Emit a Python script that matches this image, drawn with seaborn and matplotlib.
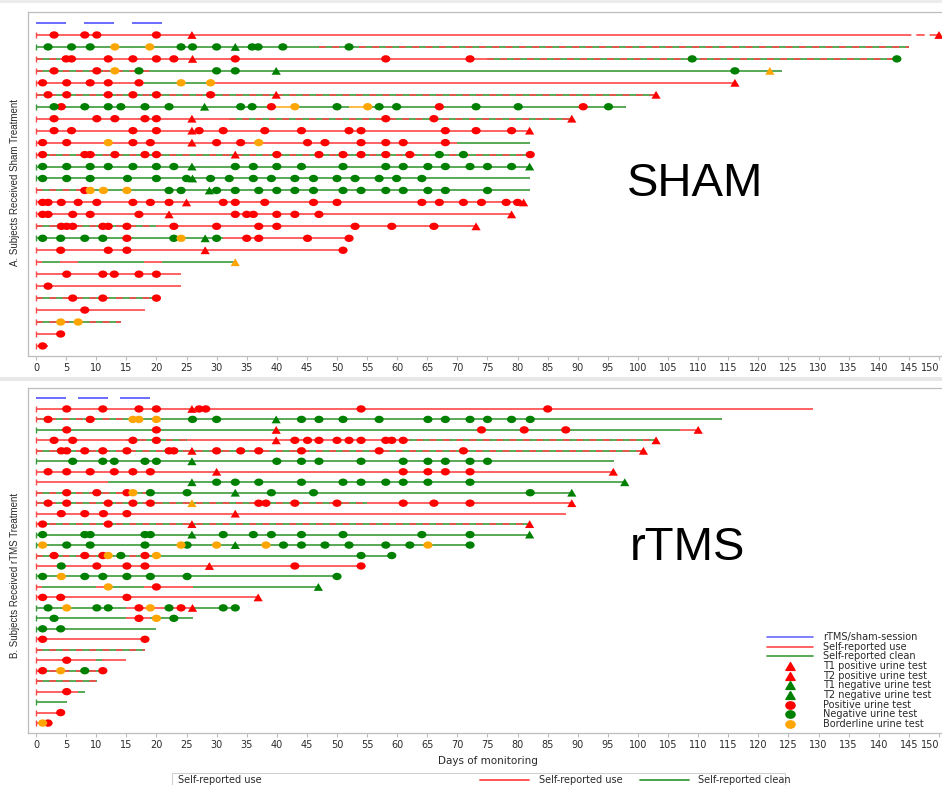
import numpy as np
import pandas as pd
import matplotlib
matplotlib.use("Agg")
import matplotlib.pyplot as plt
from matplotlib.path import Path
from matplotlib.lines import Line2D
from matplotlib.patches import Rectangle
import seaborn as sns

# ── data ──────────────────────────────────────────────────────────────────────
# each row: list of (end_day, status); status U=use, C=clean, M=mixed,
# D=use (dashed, missing), B=borderline
sham_sessions = [(0, 5), (8, 13), (16, 21)]
rtms_sessions = [(0, 5), (7, 12), (14, 19)]

sham_phases = [
    [(144, "U"), (150, "D")],
    [(47, "C"), (145, "M")],
    [(4, "M"), (75, "U"), (143, "M")],
    [(20, "M"), (124, "C")],
    [(18, "U"), (29, "C"), (116, "U")],
    [(103, "M")],
    [(39, "C"), (43, "B"), (52, "C"), (55, "B"), (98, "C")],
    [(32, "U"), (89, "M")],
    [(82, "U")],
    [(70, "U"), (82, "C")],
    [(82, "M")],
    [(82, "C")],
    [(82, "C")],
    [(9, "M"), (82, "C")],
    [(81, "U")],
    [(79, "U")],
    [(20, "M"), (73, "U")],
    [(31, "C"), (52.5, "U")],
    [(51.5, "U")],
    [(1, "U"), (4, "C"), (7, "U"), (18, "C"), (21, "U"), (33, "C")],
    [(24.1, "U")],
    [(24.1, "U")],
    [(20, "M")],
    [(18.1, "U")],
    [(14.1, "M")],
    [(4.3, "U")],
    [(2.0, "U")],
]

rtms_phases = [
    [(129, "U")],
    [(16, "M"), (114, "C")],
    [(107, "C"), (110, "U")],
    [(15, "U"), (25, "M"), (61, "U"), (103, "M")],
    [(101, "M")],
    [(96, "C")],
    [(96, "U")],
    [(12, "U"), (98, "C")],
    [(20, "M"), (89, "C")],
    [(55, "M"), (89, "U")],
    [(88, "U")],
    [(82, "M")],
    [(82, "C")],
    [(72, "C")],
    [(20, "M"), (59, "C")],
    [(54, "U")],
    [(50, "C")],
    [(1, "U"), (10, "C"), (12, "U"), (18, "C"), (26, "U"), (47, "C")],
    [(37, "U")],
    [(15, "C"), (26, "U"), (33, "C")],
    [(15, "C"), (19, "U"), (26, "C")],
    [(20, "C")],
    [(18.1, "U")],
    [(18.1, "M")],
    [(10, "U"), (11, "C"), (15, "U")],
    [(11.1, "M")],
    [(10.1, "M")],
    [(7, "U"), (8.1, "C")],
    [(5.1, "C")],
    [(4.1, "U")],
    [(2.0, "U")],
]

# urine tests, keyed by row index (0 = top row)
sham_pos = {
    0: [3.0, 8.1, 10.1, 20.0],
    2: [5.0, 5.9, 12.0, 16.1, 20.0, 22.9, 33.1, 58.1, 72.1],
    3: [3.0, 10.1],
    4: [1.1, 5.1, 9.0, 12.0, 17.1],
    5: [2.0, 5.1, 12.0, 16.1, 20.0, 29.0],
    6: [4.2, 39.1, 67.0, 90.9],
    7: [3.0, 10.1, 13.1, 18.1, 20.0, 58.1, 66.1],
    8: [3.0, 5.9, 16.1, 20.0, 27.1, 31.1, 38.0, 44.1, 52.0, 54.0, 68.0, 73.1, 79.0],
    9: [1.1, 5.1, 16.1, 19.0, 30.0, 34.0, 45.1, 48.0, 54.0, 58.1, 61.0, 68.0],
    10: [1.1, 8.1, 9.0, 13.1, 18.1, 20.0, 40.0, 47.0, 51.0, 54.0, 58.1, 62.1, 82.1],
    13: [8.1],
    14: [1.1, 2.0, 4.2, 7.0, 10.1, 16.1, 19.0, 22.1, 31.1, 33.1, 38.0, 46.1, 50.0,
         64.1, 67.0, 71.0, 74.0, 78.1, 80.0],
    15: [1.1, 2.0, 6.1, 9.0, 17.1, 33.1, 35.0, 36.1, 40.0, 43.0, 47.0],
    16: [4.2, 5.1, 6.1, 11.1, 12.0, 15.1, 22.9, 30.0, 37.0, 40.0, 53.0, 59.1, 66.1],
    17: [15.1, 35.0, 37.0, 45.1, 52.0],
    18: [4.1, 12.0, 15.1, 51.0],
    20: [5.1, 11.1, 13.0, 17.1, 20.0],
    21: [2.0],
    22: [6.1, 11.1, 20.0],
    23: [8.1],
    25: [4.1],
    26: [1.1],
}
sham_neg = {
    1: [2.0, 5.9, 9.0, 24.1, 26.0, 30.0, 35.9, 36.9, 41.0, 52.0],
    2: [109.0, 143.0],
    3: [17.1, 30.0, 33.1, 116.1],
    6: [3.0, 8.1, 12.0, 14.1, 18.1, 22.1, 34.0, 35.9, 50.0, 57.0, 59.9, 73.1, 80.1, 95.1],
    10: [67.0, 71.0],
    11: [1.1, 5.1, 9.0, 12.0, 16.1, 20.0, 22.9, 33.1, 36.1, 40.0, 44.1, 51.0, 58.1,
         61.0, 65.1, 68.0, 72.1, 75.0, 79.0],
    12: [1.1, 5.1, 9.0, 15.2, 20.0, 25.0, 29.0, 32.1, 36.1, 39.1, 43.0, 46.1, 50.0,
         53.0, 57.0, 59.9, 64.1],
    13: [22.1, 24.1, 30.0, 33.1, 37.0, 40.0, 43.0, 46.1, 51.0, 54.0, 58.1, 61.0,
         65.1, 68.0, 75.0],
    17: [1.1, 4.1, 8.1, 11.1, 22.9, 30.0],
}
sham_border = {
    1: [13.1, 18.9], 3: [13.1], 4: [24.1, 29.0], 6: [43.0, 55.1],
    9: [12.0, 37.0], 13: [9.0, 11.2, 15.1], 17: [24.1], 24: [4.1, 7.0],
}
sham_tri_pos = {
    0: [25.9, 150.0], 2: [26.0], 4: [116.1], 5: [39.9, 103.0], 7: [25.9, 89.0],
    8: [25.9, 82.0], 9: [25.9], 10: [33.1], 14: [25.0, 81.0], 15: [22.1, 79.0],
    16: [73.1], 18: [28.1],
}
sham_tri_neg = {
    1: [33.1], 3: [39.9], 6: [28.0], 11: [25.9, 82.0], 12: [26.0], 13: [28.8],
    17: [28.1],
}
sham_tri_border = {3: [121.9], 19: [33.1]}

rtms_pos = {
    0: [5.1, 11.1, 17.1, 20.0, 27.1, 28.2, 54.0, 85.0],
    1: [2.0, 9.0],
    2: [5.1, 20.0, 74.0, 81.1, 88.0],
    3: [3.0, 6.1, 16.1, 20.0, 43.0, 45.1, 47.0, 50.0, 52.0, 54.0, 58.1, 59.1, 61.0],
    4: [4.2, 5.1, 8.1, 11.1, 15.1, 22.1, 22.9, 30.0, 34.0, 37.0, 44.1, 57.0, 71.0],
    6: [2.0, 5.1, 9.0, 13.0, 16.1, 19.0, 61.0, 65.1, 68.0, 72.1],
    8: [5.1, 10.1, 15.1],
    9: [2.0, 5.1, 12.0, 16.1, 19.0, 37.0, 38.2, 43.0, 50.0, 61.0, 66.1, 72.1],
    10: [4.2, 8.1, 11.2, 15.1],
    11: [1.1, 12.0],
    14: [3.0, 8.1, 11.1, 18.1],
    15: [10.1, 15.1, 18.1, 43.0, 54.0],
    17: [20.0],
    18: [1.1, 4.1, 15.1],
    19: [17.1, 24.1],
    20: [17.1],
    22: [1.1, 18.1],
    24: [5.1],
    25: [1.1, 11.1],
    27: [5.1],
    29: [4.1],
    30: [2.0],
}
rtms_neg = {
    1: [26.0, 30.0, 44.1, 47.0, 51.0, 57.0, 65.1, 68.0, 72.1, 75.0, 79.0, 82.1],
    5: [6.1, 11.1, 13.0, 18.1, 20.0, 40.0, 44.1, 47.0, 54.0, 61.0, 65.1, 68.0, 72.1, 75.0],
    7: [30.0, 33.1, 37.0, 44.1, 51.0, 54.0, 58.1, 61.0, 65.1, 72.1],
    8: [19.0, 25.1, 39.1, 46.1, 82.1],
    12: [1.1, 8.1, 9.0, 18.1, 19.0, 31.1, 36.1, 39.1, 44.1, 51.0, 64.1, 72.1],
    13: [5.1, 9.0, 18.1, 25.1, 41.1, 44.1, 48.0, 52.0, 58.1, 62.1, 72.1],
    14: [14.1, 54.0, 59.1],
    15: [4.2],
    16: [1.1, 8.1, 11.1, 15.1, 19.0, 25.1, 50.0],
    19: [2.0, 10.1, 12.0, 22.1, 31.1, 33.1],
    20: [3.0, 22.9],
    21: [1.1, 4.1],
    25: [8.1],
}
rtms_border = {
    1: [16.1, 17.1, 20.0], 8: [16.1], 13: [1.1, 24.1, 30.0, 38.2, 65.1],
    14: [12.0, 20.0], 16: [4.2], 17: [12.0], 19: [5.1, 19.0], 20: [20.0],
    25: [4.1], 30: [1.1],
}
rtms_tri_pos = {
    0: [25.9], 2: [39.9, 110.0], 3: [39.9, 103.0], 4: [25.9, 100.9],
    6: [30.0, 95.9], 9: [89.0], 10: [33.1], 11: [25.9, 82.0], 15: [28.8],
    18: [36.9], 19: [26.0],
}
rtms_tri_neg = {
    1: [39.9], 5: [25.9], 7: [25.9, 97.8], 8: [33.1, 89.0], 12: [25.9, 82.0],
    13: [33.1], 17: [46.9],
}
rtms_tri_border = {9: [25.9]}

x_ticks = list(range(0, 151, 5))

# ── style ─────────────────────────────────────────────────────────────────────
W, H = 942, 785
RED_LINE, GREEN_LINE, ORANGE_LINE = "#ff4747", "#3b9b3b", "#ffb020"
BLUE_LINE = "#6a6aff"
PALETTE = {"pos": "#ff0000", "neg": "#008000", "border": "#ffa500"}
SPINE = "#bdbdbd"
TEXT = "#2a2a2a"

_circ = Path.unit_circle()
ELLIPSE = Path(_circ.vertices * np.array([1.0, 0.8]), _circ.codes)
TRIANGLE = Path([(0, 0.85), (-1, -0.85), (1, -0.85), (0, 0.85)],
                [Path.MOVETO, Path.LINETO, Path.LINETO, Path.CLOSEPOLY])

sns.set_theme(style="white")
plt.rcParams["font.family"] = ["DejaVu Sans"]


def marker_frame(groups):
    recs = []
    for (result, shape), by_row in groups:
        for row, days in by_row.items():
            for d in days:
                recs.append({"row": row, "day": d, "result": result, "shape": shape})
    return pd.DataFrame(recs)


def draw_panel(ax, phases, sessions, groups, ylim):
    # session bars on the row above the subjects
    for s, e in sessions:
        ax.hlines(-1, s, e, color=BLUE_LINE, lw=1.4)

    first_col = {"U": RED_LINE, "D": RED_LINE, "C": GREEN_LINE,
                 "M": RED_LINE, "B": ORANGE_LINE}
    for i, row in enumerate(phases):
        start = 0
        for end, code in row:
            if code == "U":
                ax.hlines(i, start, end, color=RED_LINE, lw=1.2)
            elif code == "C":
                ax.hlines(i, start, end, color=GREEN_LINE, lw=1.2)
            elif code == "B":
                ax.hlines(i, start, end, color=ORANGE_LINE, lw=1.2)
            elif code == "D":
                ax.hlines(i, start, end, color=RED_LINE, lw=1.2,
                          linestyles=(0, (5, 3)))
            else:  # mixed: alternating use/clean days
                ax.hlines(i, start, end, color=GREEN_LINE, lw=1.2)
                ax.hlines(i, start, end, color=RED_LINE, lw=1.2,
                          linestyles=(0, (4, 4)))
            start = end
        ax.plot(0, i, marker="|", ms=5, mew=1.0, color=first_col[row[0][1]])

    df = marker_frame(groups)
    sns.scatterplot(data=df, x="day", y="row", hue="result", style="shape",
                    palette=PALETTE, markers={"circle": ELLIPSE, "tri": TRIANGLE},
                    s=44, linewidth=0, legend=False, ax=ax, zorder=3)

    ax.set_xlim(-1.33, 150.5)
    ax.set_ylim(*ylim)
    ax.set_xticks(x_ticks)
    labels = ax.set_xticklabels([str(t) for t in x_ticks], fontsize=7, color=TEXT)
    labels[-1].set_horizontalalignment("right")  # keep "150" inside the image
    ax.set_yticks([])
    ax.set_xlabel("")
    ax.set_ylabel("")
    ax.tick_params(axis="x", length=3, width=0.8, color=SPINE, pad=2, bottom=True)
    for side in ("left", "top", "bottom"):
        ax.spines[side].set_color(SPINE)
        ax.spines[side].set_linewidth(0.9)
    ax.spines["right"].set_visible(False)


fig = plt.figure(figsize=(W / 100, H / 100), dpi=100)

# thin grey bands of the screenshot frames
fig.add_artist(Rectangle((0, 1 - 3 / H), 1, 3 / H, transform=fig.transFigure,
                         color="#ececec", lw=0))
fig.add_artist(Rectangle((0, 1 - 381 / H), 1, 4 / H, transform=fig.transFigure,
                         color="#e8e8e8", lw=0))

ax_top = fig.add_axes([28 / W, 1 - 356 / H, 1 - 28 / W, 344 / H])
draw_panel(ax_top, sham_phases, sham_sessions,
           [(("pos", "circle"), sham_pos), (("neg", "circle"), sham_neg),
            (("border", "circle"), sham_border), (("pos", "tri"), sham_tri_pos),
            (("neg", "tri"), sham_tri_neg), (("border", "tri"), sham_tri_border)],
           ylim=(26.84, -1.92))

ax_bot = fig.add_axes([28 / W, 1 - 733 / H, 1 - 28 / W, 345 / H])
draw_panel(ax_bot, rtms_phases, rtms_sessions,
           [(("pos", "circle"), rtms_pos), (("neg", "circle"), rtms_neg),
            (("border", "circle"), rtms_border), (("pos", "tri"), rtms_tri_pos),
            (("neg", "tri"), rtms_tri_neg), (("border", "tri"), rtms_tri_border)],
           ylim=(30.95, -2.0))

# panel titles
fig.text(627 / W, 1 - 196 / H, "SHAM", fontsize=34, family="Liberation Sans",
         ha="left", va="baseline", color="black")
fig.text(630 / W, 1 - 560 / H, "rTMS", fontsize=34, family="Liberation Sans",
         ha="left", va="baseline", color="black")

label_font = ["Liberation Sans Narrow", "Liberation Sans"]
fig.text(15 / W, 1 - 183 / H, "A. Subjects Received Sham Treatment", rotation=90,
         ha="center", va="center", fontsize=7, family=label_font, color=TEXT)
fig.text(15 / W, 1 - 575 / H, "B. Subjects Received rTMS Treatment", rotation=90,
         ha="center", va="center", fontsize=7, family=label_font, color=TEXT)
fig.text(488 / W, 1 - 761 / H, "Days of monitoring", ha="center", va="center",
         fontsize=7.5, color=TEXT)

# legend (drawn by hand to match the tight row spacing)
legend_items = [
    ("line", BLUE_LINE, "rTMS/sham-session"),
    ("line", RED_LINE, "Self-reported use"),
    ("line", GREEN_LINE, "Self-reported clean"),
    ("tri", PALETTE["pos"], "T1 positive urine test"),
    ("tri", PALETTE["pos"], "T2 positive urine test"),
    ("tri", PALETTE["neg"], "T1 negative urine test"),
    ("tri", PALETTE["neg"], "T2 negative urine test"),
    ("circle", PALETTE["pos"], "Positive urine test"),
    ("circle", PALETTE["neg"], "Negative urine test"),
    ("circle", PALETTE["border"], "Borderline urine test"),
]
for k, (kind, col, lab) in enumerate(legend_items):
    y = 1 - (637 + 9.65 * k) / H
    if kind == "line":
        fig.add_artist(Line2D([767 / W, 813 / W], [y, y], color=col, lw=1.2,
                              transform=fig.transFigure))
    else:
        mk = TRIANGLE if kind == "tri" else ELLIPSE
        fig.add_artist(Line2D([790 / W], [y], marker=mk, ms=6.6, color=col, lw=0,
                              transform=fig.transFigure))
    fig.text(823 / W, y, lab, fontsize=7, va="center", ha="left", color=TEXT)

# cropped legend strip at the bottom edge
fig.add_artist(Rectangle((172 / W, -0.01), (785 - 172) / W, 0.01 + 12 / H,
                         transform=fig.transFigure, fill=False,
                         edgecolor="#d0d0d0", lw=0.8))
yb = 1 - 780 / H
fig.text(178 / W, yb, "Self-reported use", fontsize=7, va="center", color=TEXT)
fig.add_artist(Line2D([480 / W, 529 / W], [yb, yb], color=RED_LINE, lw=1.3,
                      transform=fig.transFigure))
fig.text(539 / W, yb, "Self-reported use", fontsize=7, va="center", color=TEXT)
fig.add_artist(Line2D([640 / W, 689 / W], [yb, yb], color=GREEN_LINE, lw=1.3,
                      transform=fig.transFigure))
fig.text(698 / W, yb, "Self-reported clean", fontsize=7, va="center", color=TEXT)

fig.savefig("out.png", dpi=100)
plt.close(fig)
